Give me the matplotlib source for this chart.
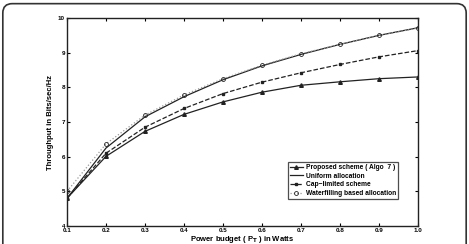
import matplotlib
matplotlib.use('Agg')
import matplotlib.pyplot as plt
from matplotlib.patches import FancyBboxPatch
import numpy as np

power = [0.1, 0.2, 0.3, 0.4, 0.5, 0.6, 0.7, 0.8, 0.9, 1.0]
proposed = [4.80, 6.01, 6.73, 7.22, 7.58, 7.86, 8.06, 8.16, 8.25, 8.30]
uniform = [4.80, 6.25, 7.15, 7.73, 8.22, 8.62, 8.95, 9.24, 9.50, 9.72]
caplimited = [4.80, 6.10, 6.85, 7.39, 7.82, 8.15, 8.42, 8.66, 8.88, 9.06]
waterfilling = [5.00, 6.37, 7.20, 7.78, 8.25, 8.64, 8.97, 9.24, 9.50, 9.71]

xticks = [0.1, 0.2, 0.3, 0.4, 0.5, 0.6, 0.7, 0.8, 0.9, 1.0]
yticks = [4, 5, 6, 7, 8, 9, 10]

plt.rcParams['font.family'] = 'Liberation Sans'
plt.rcParams['font.weight'] = 'bold'

fig = plt.figure(figsize=(4.69, 2.44), dpi=100)
border = FancyBboxPatch((0.006, -0.05), 0.988, 1.035, boxstyle="round,pad=0,rounding_size=0.02",
                        transform=fig.transFigure, fill=False, edgecolor='#333333', linewidth=1.2,
                        mutation_aspect=469/244)
fig.patches.append(border)

ax = fig.add_axes([0.143, 0.074, 0.748, 0.852])
lc = '#222222'
ax.plot(power, proposed, '-', color=lc, lw=0.9, marker='^', ms=2.6, mfc=lc,
        label='Proposed scheme ( Algo  7 )')
ax.plot(power, uniform, '-', color=lc, lw=0.9, label='Uniform allocation')
ax.plot(power, caplimited, '--', color=lc, lw=0.9, marker='s', ms=2.0, mfc=lc,
        label='Cap\u2212limited scheme')
ax.plot(power, waterfilling, ':', color='#999999', lw=0.9, marker='o', ms=2.8, mfc='none',
        mec=lc, mew=0.6, label='Waterfilling based allocation')

ax.set_xlim(0.1, 1.0)
ax.set_ylim(4, 10)
ax.set_xticks(xticks)
ax.set_xticklabels(['%.1f' % v for v in xticks])
ax.set_yticks(yticks)
ax.tick_params(direction='in', top=True, right=True, labelsize=4.5, length=2.5, width=0.8, pad=1.5)
for s in ax.spines.values():
    s.set_linewidth(1.0)
    s.set_color('#222222')
ax.set_xlabel('Power budget ( P$_\\mathbf{T}$ ) in Watts', fontsize=5.5, fontweight='bold', labelpad=0.5)
ax.set_ylabel('Throughput in Bits/sec/Hz', fontsize=5.5, fontweight='bold', labelpad=3)

leg = ax.legend(loc='lower right', bbox_to_anchor=(0.943, 0.13), fontsize=4.8, frameon=True,
                fancybox=False, edgecolor='#222222', handlelength=2.0, borderpad=0.3,
                labelspacing=0.25, handletextpad=0.4, borderaxespad=0)
leg.get_frame().set_linewidth(0.9)

fig.savefig('out.png', dpi=100)
